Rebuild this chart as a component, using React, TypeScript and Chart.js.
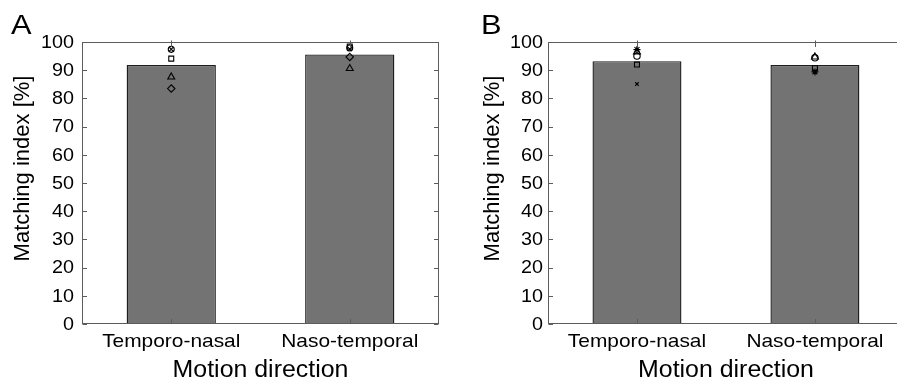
import React, { useEffect, useRef } from "react";
import { Chart, registerables } from "chart.js";
Chart.register(...registerables);

const categories = ["Temporo-nasal", "Naso-temporal"];
const yTickValues = [0, 10, 20, 30, 40, 50, 60, 70, 80, 90, 100];
const xTitle = "Motion direction";
const yTitle = "Matching index [%]";

// Panel A
const meanA = [91.8, 95.6];
const aCircle = [97.4, 97.9];
const aCross = [97.4, 97.5];
const aSquare = [94.1, 98.4];
const aTriangle = [87.6, 90.6];
const aDiamond = [83.5, 94.7];

// Panel B
const meanB = [93.2, 91.8];
const bStar = [97.3, 89.4];
const bTriangle = [96.5, 94.7];
const bCircle = [95.0, 94.4];
const bSquare = [92.0, 90.7];
const bCross = [85.1, 89.6];

const FONT = '"Liberation Sans", Arial, Helvetica, sans-serif';

type Marker = { data: number[]; style: string; r: number };
type PanelDef = {
  letter: string;
  mean: number[];
  markers: Marker[];
  left: number;
  width: number;
  pad: { left: number; right: number; top: number; bottom: number };
  letterX: number;
  tickGap: number;
  yTitleGap: number;
};

const panels: PanelDef[] = [
  {
    letter: "A",
    mean: meanA,
    markers: [
      { data: aCircle, style: "circle", r: 3 },
      { data: aCross, style: "crossRot", r: 3 },
      { data: aSquare, style: "rect", r: 3.5 },
      { data: aTriangle, style: "triangle", r: 4 },
      { data: aDiamond, style: "rectRot", r: 3.7 },
    ],
    left: 0,
    width: 448,
    pad: { left: 82, right: 9, top: 42, bottom: 59 },
    letterX: 11,
    tickGap: 8,
    yTitleGap: 53,
  },
  {
    letter: "B",
    mean: meanB,
    markers: [
      { data: bStar, style: "star", r: 3.5 },
      { data: bTriangle, style: "triangle", r: 4 },
      { data: bCircle, style: "circle", r: 3.2 },
      { data: bSquare, style: "rect", r: 3.5 },
      { data: bCross, style: "crossRot", r: 2.5 },
    ],
    left: 449,
    width: 460,
    pad: { left: 99, right: 3, top: 42, bottom: 59 },
    letterX: 32,
    tickGap: 5,
    yTitleGap: 49,
  },
];

function drawText(
  ctx: CanvasRenderingContext2D,
  text: string,
  x: number,
  y: number,
  size: number,
  sx: number,
  align: CanvasTextAlign,
  baseline: CanvasTextBaseline,
  rotate = false
) {
  ctx.save();
  ctx.translate(x, y);
  if (rotate) ctx.rotate(-Math.PI / 2);
  ctx.scale(sx, 1);
  ctx.font = `${size}px ${FONT}`;
  ctx.textAlign = align;
  ctx.textBaseline = baseline;
  ctx.fillStyle = "#000";
  ctx.fillText(text, 0, 0);
  ctx.restore();
}

function makeDecor(p: PanelDef) {
  return {
    id: "decor" + p.letter,
    afterDraw(chart: any) {
      const ctx: CanvasRenderingContext2D = chart.ctx;
      const a = chart.chartArea;
      const xs = chart.scales.x;
      const ys = chart.scales.y;
      const L = Math.round(a.left) + 0.5;
      const T = Math.round(a.top) + 0.5;
      const R = Math.round(a.right) - 0.5;
      const B = Math.round(a.bottom) - 0.5;
      ctx.save();
      ctx.strokeStyle = "#5c5c5c";
      ctx.lineWidth = 1;
      ctx.strokeRect(L, T, R - L, B - T);
      const tl = 4.5;
      ctx.beginPath();
      yTickValues.forEach((v) => {
        const y = Math.round(ys.getPixelForValue(v)) + 0.5;
        ctx.moveTo(L, y);
        ctx.lineTo(L + tl, y);
        ctx.moveTo(R, y);
        ctx.lineTo(R - tl, y);
      });
      categories.forEach((_, i) => {
        const x = Math.round(xs.getPixelForTick(i)) + 0.5;
        ctx.moveTo(x, B);
        ctx.lineTo(x, B - tl);
        ctx.moveTo(x, T - 2);
        ctx.lineTo(x, T + tl);
      });
      ctx.stroke();
      ctx.restore();

      yTickValues.forEach((v) => {
        drawText(ctx, String(v), a.left - p.tickGap, ys.getPixelForValue(v) + 1, 17.5, 1.13, "right", "middle");
      });
      categories.forEach((c, i) => {
        drawText(ctx, c, xs.getPixelForTick(i), 347, 19, 1.1, "center", "alphabetic");
      });
      drawText(ctx, xTitle, (a.left + a.right) / 2, 377, 23.5, 1.06, "center", "alphabetic");
      drawText(ctx, yTitle, a.left - p.yTitleGap, 168.5, 22, 1, "center", "alphabetic", true);
      drawText(ctx, p.letter, p.letterX, 34, 28, 1.1, "left", "alphabetic");
    },
  };
}

function Panel({ p }: { p: PanelDef }) {
  const ref = useRef<HTMLCanvasElement>(null);
  useEffect(() => {
    const datasets: any[] = [
      {
        type: "bar",
        data: p.mean,
        backgroundColor: "#737373",
        borderColor: "#1e1e1e",
        borderWidth: 1.4,
        borderSkipped: "start",
        barPercentage: 0.5,
        categoryPercentage: 1,
        order: 2,
      },
      ...p.markers.map((m) => ({
        type: "line",
        data: m.data,
        showLine: false,
        pointStyle: m.style,
        pointRadius: m.r,
        pointBorderColor: "#000",
        pointBackgroundColor: "rgba(0,0,0,0)",
        pointBorderWidth: 1.1,
        borderColor: "#000",
        backgroundColor: "rgba(0,0,0,0)",
        clip: false,
        order: 1,
      })),
    ];
    const chart = new Chart(ref.current!, {
      type: "bar",
      data: { labels: categories, datasets },
      options: {
        responsive: false,
        animation: false,
        events: [],
        layout: { padding: p.pad },
        plugins: { legend: { display: false }, tooltip: { enabled: false } },
        scales: {
          x: { type: "category", offset: true, display: false },
          y: { type: "linear", min: 0, max: 100, display: false },
        },
      } as any,
      plugins: [makeDecor(p)],
    });
    return () => chart.destroy();
  }, []);
  return (
    <canvas
      ref={ref}
      width={p.width}
      height={383}
      style={{ position: "absolute", left: p.left, top: 0, width: p.width, height: 383 }}
    />
  );
}

export default function App() {
  return (
    <div
      style={{
        position: "fixed",
        left: 0,
        top: 0,
        width: 897,
        height: 383,
        overflow: "hidden",
        background: "#fff",
      }}
    >
      {panels.map((p) => (
        <Panel key={p.letter} p={p} />
      ))}
    </div>
  );
}
